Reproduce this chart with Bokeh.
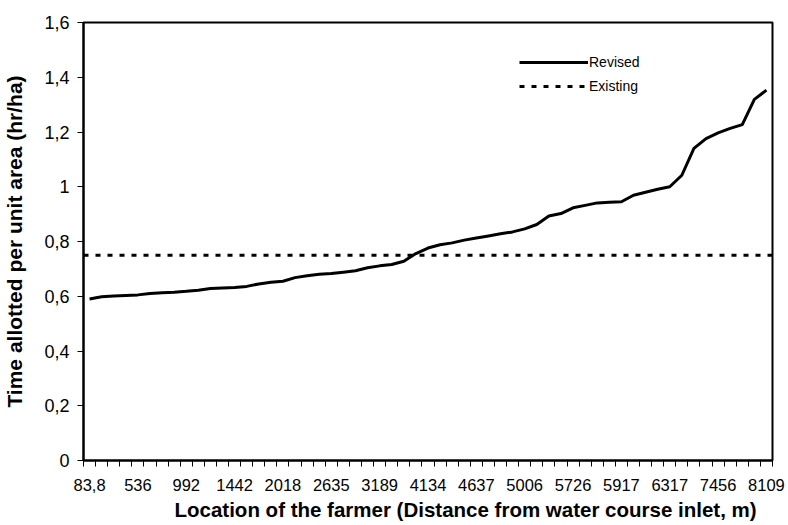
from bokeh.plotting import figure
from bokeh.models import FixedTicker, CustomJSTickFormatter, Legend, LegendItem, Range1d, Title
from bokeh.embed import file_html
from bokeh.resources import INLINE

# Data
tick_labels = ["83,8", "536", "992", "1442", "2018", "2635", "3189", "4134",
               "4637", "5006", "5726", "5917", "6317", "7456", "8109"]
label_every = 4
revised = [0.590, 0.598, 0.601, 0.603, 0.605, 0.610, 0.613, 0.615, 0.618, 0.622,
           0.628, 0.630, 0.632, 0.636, 0.645, 0.651, 0.655, 0.668, 0.675, 0.680,
           0.683, 0.688, 0.693, 0.704, 0.711, 0.716, 0.728, 0.756, 0.776, 0.788,
           0.795, 0.805, 0.813, 0.820, 0.828, 0.835, 0.846, 0.862, 0.893, 0.902,
           0.923, 0.932, 0.941, 0.943, 0.945, 0.969, 0.980, 0.991, 1.000, 1.042,
           1.140, 1.176, 1.197, 1.213, 1.227, 1.319, 1.353]
existing = 0.75
y_ticks = [0, 0.2, 0.4, 0.6, 0.8, 1.0, 1.2, 1.4, 1.6]

n = len(revised)
xs = list(range(n))
FONT = "Liberation Sans"

p = figure(width=788, height=525, output_backend="svg", toolbar_location=None,
           x_range=Range1d(-0.5, n - 0.5), y_range=Range1d(0, 1.6),
           min_border_left=82, min_border_right=16, min_border_top=22, min_border_bottom=65)
p.background_fill_color = "white"
p.border_fill_color = "white"
p.outline_line_color = "black"
p.outline_line_width = 2
p.xgrid.visible = False
p.ygrid.visible = False

r_rev = p.line(xs, revised, line_color="black", line_width=3, line_join="round")
r_ex = p.line([-0.5, n - 0.5], [existing, existing], line_color="black", line_width=3,
              line_dash="5 7")

# X axis
major = [i * label_every for i in range(len(tick_labels))]
minor = [i - 0.5 for i in range(n + 1)]
p.xaxis.ticker = FixedTicker(ticks=major, minor_ticks=minor)
p.xaxis.major_label_overrides = {major[i]: tick_labels[i] for i in range(len(tick_labels))}
p.xaxis.major_tick_line_color = None
p.xaxis.major_tick_out = 6
p.xaxis.minor_tick_line_color = "black"
p.xaxis.minor_tick_out = 6
p.xaxis.minor_tick_in = 0
p.xaxis.axis_line_color = "black"
p.xaxis.axis_line_width = 2
p.xaxis.major_label_standoff = 12
p.xaxis.major_label_text_font = FONT
p.xaxis.major_label_text_font_size = "16.5px"
p.xaxis.major_label_text_color = "black"

xt = Title(text="Location of the farmer (Distance from water course inlet, m)",
           align="left", offset=91, standoff=4, text_font=FONT, text_font_size="20.5px",
           text_font_style="bold", text_color="black")
p.add_layout(xt, "below")

# Y axis
p.yaxis.ticker = FixedTicker(ticks=y_ticks, minor_ticks=[])
p.yaxis.formatter = CustomJSTickFormatter(code="return (Math.round(tick*10)/10).toString().replace('.', ',');")
p.yaxis.major_tick_out = 6
p.yaxis.major_tick_in = 0
p.yaxis.major_tick_line_color = "black"
p.yaxis.axis_line_color = "black"
p.yaxis.axis_line_width = 2
p.yaxis.major_label_standoff = 8
p.yaxis.major_label_text_font = FONT
p.yaxis.major_label_text_font_size = "18px"
p.yaxis.major_label_text_color = "black"
p.yaxis.axis_label = "Time allotted per unit area (hr/ha)"
p.yaxis.axis_label_text_font = FONT
p.yaxis.axis_label_text_font_size = "21px"
p.yaxis.axis_label_text_font_style = "bold"
p.yaxis.axis_label_text_color = "black"
p.yaxis.axis_label_standoff = 15

legend = Legend(items=[LegendItem(label="Revised", renderers=[r_rev]),
                       LegendItem(label="Existing", renderers=[r_ex])],
                location=(436, 364), padding=0, margin=0, spacing=4,
                glyph_width=69, glyph_height=20, label_height=20, label_standoff=1,
                label_text_font=FONT, label_text_font_size="14px",
                label_text_color="black", border_line_color=None,
                background_fill_alpha=0)
p.add_layout(legend)

open("out.html", "w").write(file_html(p, INLINE))
